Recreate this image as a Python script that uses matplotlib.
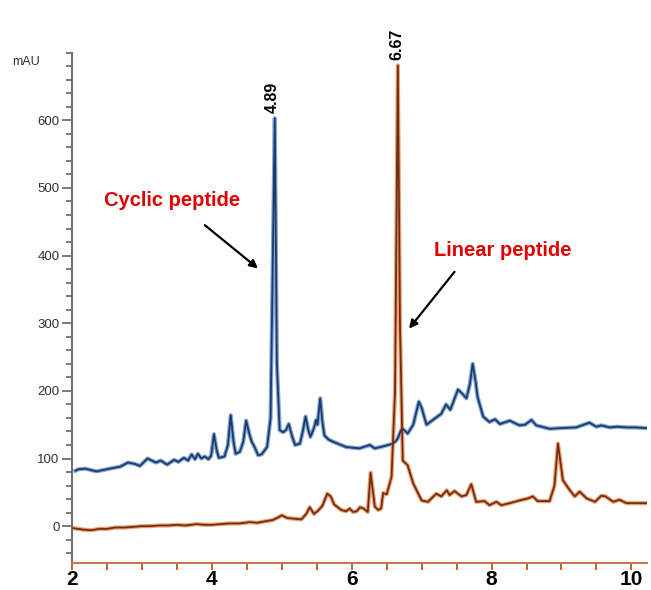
import matplotlib
matplotlib.use("Agg")
import matplotlib.pyplot as plt
from matplotlib.ticker import MultipleLocator

# ---- data ----
cyclic_t = [2.05, 2.09, 2.19, 2.35, 2.54, 2.69, 2.80, 2.90, 2.97, 3.08, 3.20, 3.27, 3.36, 3.46,
            3.52, 3.60, 3.66, 3.71, 3.76, 3.80, 3.85, 3.90, 3.95, 3.99, 4.03, 4.07, 4.10, 4.18,
            4.23, 4.27, 4.31, 4.34, 4.40, 4.45, 4.49, 4.54, 4.57, 4.62, 4.66, 4.71, 4.79, 4.84,
            4.87, 4.90, 4.93, 4.97, 5.02, 5.06, 5.10, 5.15, 5.19, 5.26, 5.30, 5.34, 5.38, 5.41,
            5.46, 5.49, 5.51, 5.55, 5.58, 5.61, 5.67, 5.73, 5.92, 6.11, 6.20, 6.26, 6.33, 6.45,
            6.59, 6.65, 6.72, 6.80, 6.88, 6.96, 7.00, 7.07, 7.16, 7.28, 7.35, 7.41, 7.52, 7.58,
            7.64, 7.69, 7.73, 7.77, 7.80, 7.88, 7.97, 8.05, 8.12, 8.26, 8.40, 8.48, 8.57, 8.64,
            8.83, 9.00, 9.21, 9.40, 9.50, 9.57, 9.69, 9.80, 9.93, 10.05, 10.21]
cyclic_v = [82, 84, 85, 81, 85, 88, 94, 92, 89, 100, 94, 97, 91, 98,
            95, 101, 97, 106, 99, 107, 100, 103, 99, 104, 136, 112, 101, 103,
            120, 164, 125, 107, 110, 125, 156, 135, 125, 115, 105, 106, 117, 160,
            380, 603, 240, 142, 139, 142, 151, 132, 120, 122, 140, 162, 142, 132,
            145, 157, 150, 189, 155, 134, 128, 125, 117, 115, 118, 120, 115, 118,
            122, 128, 145, 137, 150, 184, 175, 150, 157, 166, 180, 172, 202, 196,
            189, 210, 240, 215, 191, 162, 154, 158, 151, 156, 149, 150, 157, 149,
            144, 145, 146, 153, 147, 149, 146, 147, 146, 146, 145]

linear_t = [2.02, 2.15, 2.27, 2.40, 2.50, 2.62, 2.75, 2.88, 3.00, 3.12, 3.25, 3.38, 3.50, 3.62,
            3.78, 3.90, 4.00, 4.12, 4.25, 4.40, 4.54, 4.65, 4.75, 4.87,
            4.95, 5.00, 5.08, 5.28, 5.35, 5.40, 5.46, 5.52, 5.58, 5.65, 5.70, 5.75, 5.85, 5.92,
            5.97, 6.02, 6.07, 6.12, 6.17, 6.23, 6.27, 6.33, 6.38, 6.42, 6.45, 6.50, 6.57, 6.62,
            6.66, 6.69, 6.73, 6.80, 6.88, 7.00, 7.09, 7.21, 7.28, 7.36, 7.40, 7.47, 7.57, 7.64,
            7.71, 7.78, 7.90, 7.97, 8.07, 8.14, 8.26, 8.40, 8.52, 8.59, 8.66, 8.83, 8.90, 8.95,
            9.02, 9.12, 9.19, 9.26, 9.36, 9.48, 9.57, 9.63, 9.74, 9.83, 9.93, 10.21]
linear_v = [-3, -5, -6, -4, -4, -2, -2, -1, 0, 0, 1, 1, 2, 1,
            3, 2, 2, 3, 4, 4, 6, 5, 7, 9,
            13, 16, 12, 10, 18, 28, 18, 23, 30, 48, 44, 32, 24, 22,
            26, 21, 22, 28, 26, 21, 79, 29, 24, 26, 49, 47, 73, 200,
            681, 300, 97, 90, 63, 38, 36, 48, 44, 53, 46, 52, 44, 46,
            62, 36, 37, 31, 36, 31, 34, 38, 41, 44, 37, 37, 60, 122,
            68, 53, 44, 51, 41, 36, 45, 44, 36, 39, 34, 34]

peak_labels = ["4.89", "6.67"]
peak_t = [4.89, 6.67]
peak_v = [603, 681]
series_names = ["Cyclic peptide", "Linear peptide"]

# ---- figure ----
fig = plt.figure(figsize=(6.51, 5.90), dpi=100)
ax = fig.add_axes([0.1106, 0.0463, 0.884, 0.8644])

ax.plot(cyclic_t, cyclic_v, color="#7fa6d8", lw=3.0, solid_joinstyle="round", zorder=2)
ax.plot(cyclic_t, cyclic_v, color="#1f3a66", lw=1.3, solid_joinstyle="round", zorder=3)
ax.plot(linear_t, linear_v, color="#f0a070", lw=3.0, solid_joinstyle="round", zorder=2)
ax.plot(linear_t, linear_v, color="#6e2e14", lw=1.3, solid_joinstyle="round", zorder=3)

ax.set_xlim(2, 10.23)
ax.set_ylim(-54, 700)

for s in ["top", "right"]:
    ax.spines[s].set_visible(False)
ax.spines["left"].set_color("#707070")
ax.spines["left"].set_linewidth(1.5)
ax.spines["bottom"].set_color("#c8784e")
ax.spines["bottom"].set_linewidth(1.5)

ax.xaxis.set_major_locator(MultipleLocator(2))
ax.xaxis.set_minor_locator(MultipleLocator(0.5))
ax.yaxis.set_minor_locator(MultipleLocator(20))
ax.set_yticks([0, 100, 200, 300, 400, 500, 600])

ax.tick_params(axis="x", which="both", direction="out", color="#b05a30", width=1.3)
ax.tick_params(axis="x", which="major", length=5, pad=0.5)
ax.tick_params(axis="x", which="minor", length=5)
ax.tick_params(axis="y", which="major", length=7, width=1.3, color="#707070", pad=2,
               labelsize=9.5, labelcolor="#333333")
ax.tick_params(axis="y", which="minor", length=4, width=1.3, color="#707070")

for lab in ax.get_xticklabels():
    lab.set_fontfamily(["Liberation Sans Narrow", "Liberation Sans", "DejaVu Sans"])
    lab.set_fontweight("bold")
    lab.set_fontsize(15)
    lab.set_color("black")
for lab in ax.get_yticklabels():
    lab.set_fontfamily(["Liberation Sans", "DejaVu Sans"])

fig.text(12 / 651, 1 - 62 / 590, "mAU", fontsize=9, color="#333333",
         family=["Liberation Sans", "DejaVu Sans"], va="center", ha="left")

for lab, t, v in zip(peak_labels, peak_t, peak_v):
    ax.text(t - 0.03, v + 8, lab, rotation=90, ha="center", va="bottom", fontsize=11.5,
            fontweight="bold", family=["Liberation Sans", "DejaVu Sans"], clip_on=False)

ax.text(3.43, 482, series_names[0], ha="center", va="center",
        color="#e00000", fontsize=14.5, fontweight="bold",
        family=["Liberation Sans", "DejaVu Sans"])
ax.annotate("", xy=(4.66, 381), xytext=(3.90, 445),
            arrowprops=dict(arrowstyle="-|>", color="black", lw=1.6,
                            shrinkA=0, shrinkB=0, mutation_scale=12))
ax.text(8.16, 408, series_names[1], ha="center", va="center",
        color="#e00000", fontsize=14.5, fontweight="bold",
        family=["Liberation Sans", "DejaVu Sans"])
ax.annotate("", xy=(6.82, 292), xytext=(7.47, 376),
            arrowprops=dict(arrowstyle="-|>", color="black", lw=1.6,
                            shrinkA=0, shrinkB=0, mutation_scale=12))

fig.savefig("out.png", dpi=100)
